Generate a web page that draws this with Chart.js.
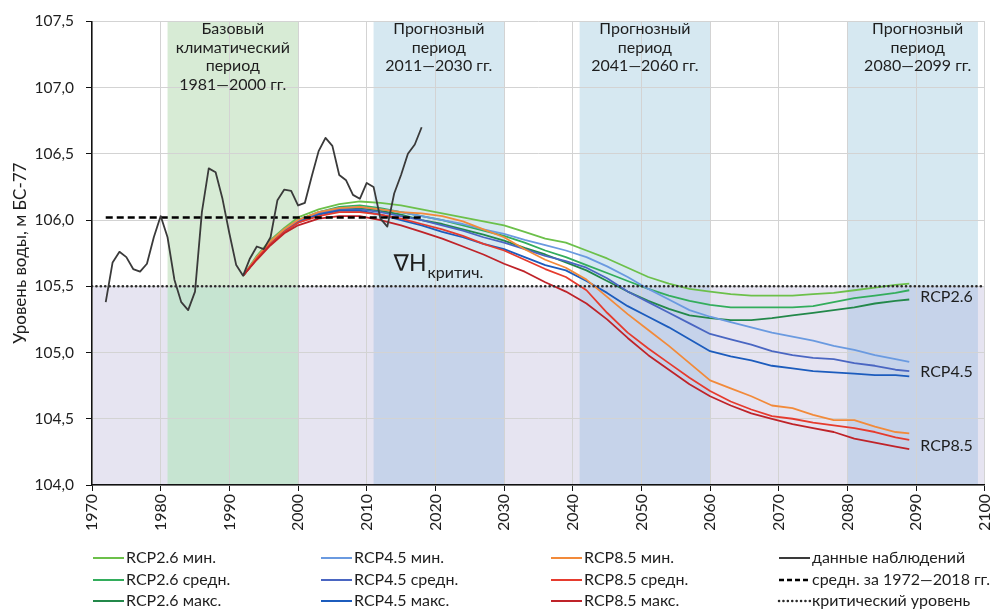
<!DOCTYPE html>
<html><head><meta charset="utf-8">
<script src="https://cdn.jsdelivr.net/npm/chart.js@4.4.1/dist/chart.umd.min.js"></script>
<style>html,body{margin:0;padding:0;background:#fff;}#wrap{position:relative;width:1007px;height:610px;}</style>
</head><body><div id="wrap"><canvas id="c" width="1007" height="610"></canvas></div>
<script>
// ---------- DATA ----------
const obsYears = [1972,1973,1974,1975,1976,1977,1978,1979,1980,1981,1982,1983,1984,1985,1986,1987,1988,1989,1990,1991,1992,1993,1994,1995,1996,1997,1998,1999,2000,2001,2002,2003,2004,2005,2006,2007,2008,2009,2010,2011,2012,2013,2014,2015,2016,2017,2018];
const obsValues = [105.38,105.68,105.76,105.72,105.63,105.61,105.67,105.87,106.03,105.87,105.55,105.38,105.32,105.46,106.06,106.39,106.36,106.16,105.90,105.66,105.58,105.71,105.80,105.78,105.87,106.15,106.23,106.22,106.11,106.13,106.33,106.52,106.62,106.56,106.34,106.30,106.19,106.16,106.28,106.25,106.01,105.95,106.20,106.34,106.50,106.57,106.70];

const meanYears = [1972, 2018];
const meanLevel = 106.02;
const critYears = [1970, 2100];
const critLevel = 105.5;

const projYears = [1992,1994,1996,1998,2000,2003,2006,2009,2012,2015,2018,2021,2024,2027,2030,2033,2036,2039,2042,2045,2048,2051,2054,2057,2060,2063,2066,2069,2072,2075,2078,2081,2084,2087,2089];
const rcp26min = [105.58,105.73,105.85,105.94,106.02,106.08,106.12,106.14,106.13,106.11,106.08,106.05,106.02,105.99,105.96,105.91,105.86,105.83,105.77,105.71,105.64,105.57,105.52,105.48,105.46,105.44,105.43,105.43,105.43,105.44,105.45,105.47,105.49,105.51,105.52];
const rcp26mid = [105.58,105.72,105.84,105.93,106.00,106.06,106.10,106.11,106.09,106.06,106.03,106.00,105.96,105.92,105.88,105.83,105.77,105.72,105.66,105.60,105.54,105.48,105.43,105.39,105.36,105.34,105.34,105.34,105.34,105.35,105.38,105.41,105.43,105.45,105.47];
const rcp26max = [105.58,105.71,105.83,105.92,105.99,106.05,106.08,106.09,106.07,106.04,106.00,105.97,105.93,105.89,105.845,105.79,105.74,105.68,105.62,105.54,105.46,105.39,105.33,105.28,105.26,105.245,105.245,105.26,105.28,105.30,105.32,105.34,105.37,105.39,105.40];
const rcp45min = [105.58,105.72,105.84,105.93,106.00,106.06,106.09,106.10,106.08,106.06,106.03,106.00,105.97,105.93,105.895,105.85,105.81,105.77,105.72,105.65,105.57,105.48,105.40,105.32,105.27,105.23,105.19,105.15,105.12,105.09,105.05,105.02,104.98,104.95,104.93];
const rcp45mid = [105.58,105.71,105.83,105.92,105.99,106.05,106.08,106.08,106.06,106.03,106.00,105.96,105.92,105.87,105.83,105.78,105.73,105.69,105.64,105.56,105.46,105.38,105.30,105.22,105.14,105.10,105.06,105.01,104.98,104.96,104.95,104.92,104.90,104.87,104.86];
const rcp45max = [105.58,105.71,105.82,105.91,105.98,106.04,106.07,106.07,106.04,106.00,105.96,105.91,105.87,105.82,105.78,105.72,105.66,105.62,105.54,105.45,105.35,105.27,105.19,105.10,105.01,104.97,104.94,104.90,104.88,104.86,104.85,104.84,104.83,104.83,104.82];
const rcp85min = [105.58,105.72,105.84,105.93,106.00,106.06,106.09,106.10,106.08,106.06,106.05,106.03,105.99,105.93,105.87,105.78,105.70,105.64,105.55,105.42,105.29,105.17,105.05,104.92,104.79,104.73,104.67,104.60,104.58,104.53,104.49,104.49,104.44,104.40,104.39];
const rcp85mid = [105.58,105.71,105.82,105.91,105.98,106.03,106.06,106.06,106.04,106.01,105.97,105.93,105.88,105.82,105.77,105.70,105.63,105.57,105.47,105.30,105.15,105.03,104.92,104.81,104.71,104.63,104.57,104.52,104.50,104.47,104.45,104.43,104.40,104.36,104.34];
const rcp85max = [105.58,105.70,105.81,105.90,105.96,106.01,106.03,106.03,106.00,105.96,105.91,105.86,105.80,105.74,105.67,105.61,105.53,105.46,105.37,105.25,105.11,104.98,104.87,104.76,104.67,104.60,104.54,104.50,104.46,104.43,104.40,104.35,104.32,104.29,104.27];

const xTickYears = [1970,1980,1990,2000,2010,2020,2030,2040,2050,2060,2070,2080,2090,2100];
const yTickValues = [104.0,104.5,105.0,105.5,106.0,106.5,107.0,107.5];

const baseBand = [1981, 2000];
const forecastBands = [[2011, 2030], [2041, 2060], [2080, 2099]];
const baseBandTitle = ['Базовый', 'климатический', 'период', '1981—2000 гг.'];
const forecastBandTitles = [
  ['Прогнозный', 'период', '2011—2030 гг.'],
  ['Прогнозный', 'период', '2041—2060 гг.'],
  ['Прогнозный', 'период', '2080—2099 гг.']
];
const scenarioLabels = ['RCP2.6', 'RCP4.5', 'RCP8.5'];
const scenarioLabelValues = [105.42, 104.855, 104.295];
const scenarioLabelYear = 2090.6;
const critLabelYear = 2013.9;
const critLabelValue = 105.615;

// ---------- CHART ----------
Chart.defaults.font.family = "Lato, 'Open Sans', 'DejaVu Sans', sans-serif";
Chart.defaults.color = '#1e1e1e';

const xy = (xs, ys) => xs.map((x, i) => ({x: x, y: ys[i]}));

const projDefs = [
  ['RCP2.6 мин.', rcp26min, '#6cc04a'],
  ['RCP2.6 средн.', rcp26mid, '#33ad5c'],
  ['RCP2.6 макс.', rcp26max, '#23884a'],
  ['RCP4.5 мин.', rcp45min, '#6a9ae0'],
  ['RCP4.5 средн.', rcp45mid, '#4a66c2'],
  ['RCP4.5 макс.', rcp45max, '#1c5cbd'],
  ['RCP8.5 мин.', rcp85min, '#f28a3a'],
  ['RCP8.5 средн.', rcp85mid, '#e63b2e'],
  ['RCP8.5 макс.', rcp85max, '#bf2329']
];

const datasets = projDefs.map((d, i) => ({
  label: d[0], data: xy(projYears, d[1]), borderColor: d[2], backgroundColor: d[2],
  borderWidth: 1.8, order: 3 + (8 - i), legendStyle: 'solid'
}));
datasets.push({label: 'данные наблюдений', data: xy(obsYears, obsValues), borderColor: '#3a3a3a', backgroundColor: '#3a3a3a', borderWidth: 1.8, order: 0, legendStyle: 'solid'});
datasets.push({label: 'средн. за 1972—2018 гг.', data: xy(meanYears, [meanLevel, meanLevel]), borderColor: '#000', backgroundColor: '#000', borderWidth: 2.5, borderDash: [7, 4], order: 1, legendStyle: 'dash'});
datasets.push({label: 'критический уровень', data: xy(critYears, [critLevel, critLevel]), borderColor: '#2a2a2a', backgroundColor: '#2a2a2a', borderWidth: 2.6, borderDash: [0.1, 4.3], borderCapStyle: 'round', order: 2, legendStyle: 'dot'});

const bandsPlugin = {
  id: 'bands',
  beforeDraw(chart) {
    const {ctx, chartArea: a, scales: {x, y}} = chart;
    const yc = y.getPixelForValue(critLevel);
    ctx.save();
    ctx.fillStyle = '#ffffff';
    ctx.fillRect(0, 0, chart.width, chart.height);
    ctx.fillStyle = '#e6e4f1';
    ctx.fillRect(a.left, yc, a.right - a.left, a.bottom - yc);
    const drawBand = (b, top, bottom) => {
      const x0 = x.getPixelForValue(b[0]), x1 = x.getPixelForValue(b[1]);
      ctx.fillStyle = top; ctx.fillRect(x0, a.top, x1 - x0, yc - a.top);
      ctx.fillStyle = bottom; ctx.fillRect(x0, yc, x1 - x0, a.bottom - yc);
    };
    drawBand(baseBand, '#d7ebd5', '#c6e4d1');
    forecastBands.forEach(b => drawBand(b, '#d6e8f1', '#c6d3ea'));
    ctx.restore();
  }
};

const textPlugin = {
  id: 'texts',
  afterDraw(chart) {
    const {ctx, chartArea: a, scales: {x, y}} = chart;
    ctx.save();
    ctx.fillStyle = '#1e1e1e';
    ctx.textAlign = 'center';
    ctx.textBaseline = 'middle';
    ctx.font = "16px Lato, 'Open Sans', sans-serif";
    const drawTitle = (b, lines, shift) => {
      const cx = (x.getPixelForValue(b[0]) + x.getPixelForValue(b[1])) / 2 + shift;
      lines.forEach((t, i) => ctx.fillText(t, cx, a.top + 8 + i * 18.5));
    };
    drawTitle(baseBand, baseBandTitle, 0);
    forecastBands.forEach((b, i) => drawTitle(b, forecastBandTitles[i], i === 2 ? 5 : 0));

    // critical level label
    const lx = x.getPixelForValue(critLabelYear), ly = y.getPixelForValue(critLabelValue);
    ctx.textAlign = 'left';
    ctx.textBaseline = 'alphabetic';
    ctx.font = "23px Lato, 'DejaVu Sans', sans-serif";
    ctx.fillText('∇H', lx, ly);
    const w = ctx.measureText('∇H').width;
    ctx.font = "16px Lato, 'Open Sans', sans-serif";
    ctx.fillText('критич.', lx + w + 1, ly + 7);

    // scenario labels
    ctx.textBaseline = 'middle';
    ctx.font = "16px Lato, 'Open Sans', sans-serif";
    scenarioLabels.forEach((t, i) => ctx.fillText(t, x.getPixelForValue(scenarioLabelYear), y.getPixelForValue(scenarioLabelValues[i])));

    // legend (4 columns x 3 rows)
    const colX = [93, 321, 551, 779];
    const rowY = [558, 580, 601];
    const ds = chart.data.datasets;
    ctx.font = "16px Lato, 'Open Sans', sans-serif";
    ds.forEach((d, i) => {
      const col = Math.floor(i / 3), row = i % 3;
      const x0 = colX[col], y0 = rowY[row];
      ctx.save();
      ctx.strokeStyle = d.borderColor;
      ctx.lineWidth = d.legendStyle === 'solid' ? 2 : 2.5;
      if (d.legendStyle === 'dash') ctx.setLineDash([5, 3]);
      if (d.legendStyle === 'dot') { ctx.setLineDash([0.1, 4.3]); ctx.lineCap = 'round'; }
      ctx.beginPath(); ctx.moveTo(x0, y0); ctx.lineTo(x0 + 31, y0); ctx.stroke();
      ctx.restore();
      ctx.fillStyle = '#1e1e1e';
      ctx.textAlign = 'left';
      ctx.textBaseline = 'middle';
      ctx.fillText(d.label, x0 + 33, y0);
    });
    ctx.restore();
  }
};

new Chart(document.getElementById('c'), {
  type: 'line',
  data: {datasets: datasets},
  options: {
    responsive: false, animation: false, devicePixelRatio: 1,
    layout: {padding: {left: 0, right: 10, top: 18, bottom: 80}},
    elements: {point: {radius: 0}, line: {tension: 0, borderJoinStyle: 'round'}},
    plugins: {legend: {display: false}, tooltip: {enabled: false}},
    scales: {
      x: {
        type: 'linear', min: xTickYears[0], max: xTickYears[xTickYears.length - 1],
        afterBuildTicks(s) { s.ticks = xTickYears.map(v => ({value: v})); },
        ticks: {minRotation: 90, maxRotation: 90, autoSkip: false, padding: 3, font: {size: 16}, color: '#1e1e1e', callback: v => String(v)},
        grid: {color: '#d3d3d3', tickColor: '#111', tickLength: 6, lineWidth: 1},
        border: {color: '#111', width: 1.5},
        afterFit(s) { s.height = 45; }
      },
      y: {
        min: yTickValues[0], max: yTickValues[yTickValues.length - 1],
        afterBuildTicks(s) { s.ticks = yTickValues.map(v => ({value: v})); },
        ticks: {padding: 12, font: {size: 15.5}, color: '#1e1e1e', callback: v => v.toFixed(1).replace('.', ',')},
        grid: {color: '#d3d3d3', tickColor: '#111', tickLength: 6, lineWidth: 1},
        border: {color: '#111', width: 1.5},
        title: {display: true, text: 'Уровень воды, м БС-77', font: {size: 17}, color: '#1e1e1e', padding: {top: 10, bottom: 0}},
        afterFit(s) { s.width = 92; }
      }
    }
  },
  plugins: [bandsPlugin, textPlugin]
});
</script>
</body></html>
